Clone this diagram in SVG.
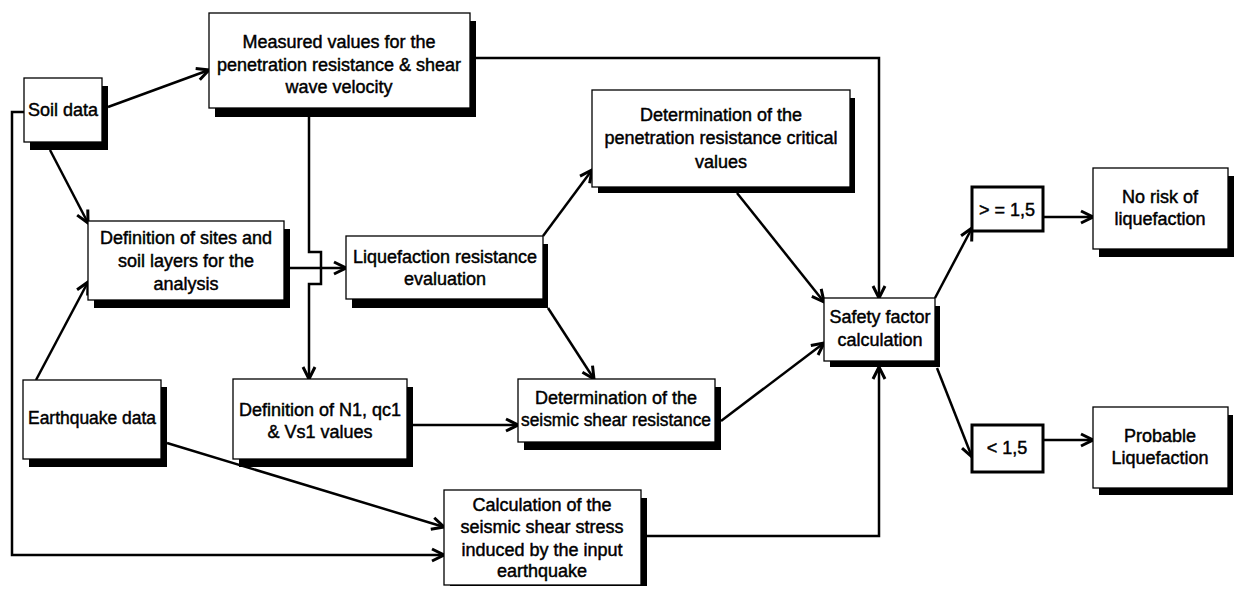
<svg xmlns="http://www.w3.org/2000/svg" width="1238" height="591" viewBox="0 0 1238 591">
<defs>
<marker id="arr" markerUnits="userSpaceOnUse" markerWidth="16" markerHeight="16" viewBox="0 0 16 16" refX="14" refY="8" orient="auto">
<path d="M2,2 L14,8 L2,14" fill="none" stroke="#000" stroke-width="3" stroke-linejoin="miter"/>
</marker>
</defs>
<style>
.box{fill:#fff;stroke:#000;stroke-width:1.3}
.sh{fill:#000}
.tb{fill:#fff;stroke:#000;stroke-width:3}
text{font-family:"Liberation Sans",Arial,sans-serif;font-size:18px;fill:#000;stroke:#000;stroke-width:0.45;text-anchor:middle}
.ca{fill:none;stroke:#000;stroke-width:2.5;marker-end:url(#arr)}
</style>
<rect width="1238" height="591" fill="#fff"/>
<g id="connectors">
<line class="ca" x1="108" y1="107" x2="209" y2="70"/>
<line class="ca" x1="50" y1="150" x2="88" y2="223"/>
<line class="ca" x1="36" y1="380" x2="88" y2="282"/>
<polyline class="ca" points="24,112 12,112 12,555 444,555"/>
<line class="ca" x1="167" y1="443" x2="444" y2="527"/>
<polyline class="ca" points="309,117 309,252 321,252 321,284 309,284 309,379"/>
<line class="ca" x1="290" y1="268" x2="346" y2="268"/>
<polyline class="ca" points="475,58 879,58 879,298"/>
<line class="ca" x1="543" y1="236" x2="592" y2="170"/>
<line class="ca" x1="548" y1="308" x2="594" y2="379"/>
<line class="ca" x1="413" y1="425" x2="518" y2="425"/>
<line class="ca" x1="737" y1="193" x2="824" y2="302"/>
<line class="ca" x1="721" y1="421" x2="824" y2="343"/>
<polyline class="ca" points="647,536 879,536 879,367"/>
<line class="ca" x1="935" y1="298" x2="972" y2="228"/>
<line class="ca" x1="937" y1="368" x2="972" y2="457"/>
<line class="ca" x1="1043" y1="217" x2="1093" y2="217"/>
<line class="ca" x1="1043" y1="440" x2="1093" y2="440"/>
</g>
<g id="soil">
<rect class="sh" x="30" y="86" width="78" height="64"/>
<rect class="box" x="24" y="78" width="78" height="64"/>
<text x="63" y="116">Soil data</text>
</g>
<g id="measured">
<rect class="sh" x="215" y="21" width="261" height="96"/>
<rect class="box" x="209" y="13" width="261" height="95"/>
<text x="339" y="48">Measured values for the</text>
<text x="339" y="71">penetration resistance &amp; shear</text>
<text x="339" y="93">wave velocity</text>
</g>
<g id="sites">
<rect class="sh" x="94" y="229" width="196" height="79"/>
<rect class="box" x="88" y="221" width="196" height="79"/>
<text x="186" y="244">Definition of sites and</text>
<text x="186" y="267">soil layers for the</text>
<text x="186" y="290">analysis</text>
</g>
<g id="liquefaction">
<rect class="sh" x="352" y="244" width="196" height="64"/>
<rect class="box" x="346" y="236" width="197" height="63"/>
<text x="445" y="263">Liquefaction resistance</text>
<text x="445" y="285">evaluation</text>
</g>
<g id="earthquake">
<rect class="sh" x="29" y="387" width="138" height="80"/>
<rect class="box" x="23" y="380" width="138" height="79"/>
<text x="92" y="424" textLength="128" lengthAdjust="spacingAndGlyphs">Earthquake data</text>
</g>
<g id="n1">
<rect class="sh" x="239" y="387" width="174" height="80"/>
<rect class="box" x="233" y="379" width="174" height="80"/>
<text x="320" y="416">Definition of N1, qc1</text>
<text x="320" y="438">&amp; Vs1 values</text>
</g>
<g id="critical">
<rect class="sh" x="598" y="98" width="257" height="95"/>
<rect class="box" x="592" y="90" width="258" height="97"/>
<text x="721" y="121">Determination of the</text>
<text x="721" y="144">penetration resistance critical</text>
<text x="721" y="168">values</text>
</g>
<g id="seismic">
<rect class="sh" x="524" y="387" width="197" height="63"/>
<rect class="box" x="518" y="379" width="197" height="63"/>
<text x="616" y="404">Determination of the</text>
<text x="616" y="426" textLength="190" lengthAdjust="spacingAndGlyphs">seismic shear resistance</text>
</g>
<g id="calc">
<rect class="sh" x="450" y="498" width="197" height="88"/>
<rect class="box" x="444" y="490" width="197" height="95"/>
<text x="542" y="511">Calculation of the</text>
<text x="542" y="533">seismic shear stress</text>
<text x="542" y="556">induced by the input</text>
<text x="542" y="577">earthquake</text>
</g>
<g id="safety">
<rect class="sh" x="830" y="306" width="110" height="61"/>
<rect class="box" x="824" y="298" width="111" height="63"/>
<text x="880" y="323">Safety factor</text>
<text x="880" y="346">calculation</text>
</g>
<g id="ge">
<rect class="tb" x="972" y="187" width="71" height="44"/>
<text x="1007" y="216">&gt; = 1,5</text>
</g>
<g id="lt">
<rect class="tb" x="972" y="425" width="71" height="47"/>
<text x="1007" y="454">&lt;  1,5</text>
</g>
<g id="norisk">
<rect class="sh" x="1099" y="176" width="135" height="81"/>
<rect class="box" x="1093" y="168" width="135" height="81"/>
<text x="1160" y="203">No risk of</text>
<text x="1160" y="225">liquefaction</text>
</g>
<g id="probable">
<rect class="sh" x="1099" y="415" width="134" height="80"/>
<rect class="box" x="1093" y="407" width="135" height="81"/>
<text x="1160" y="442">Probable</text>
<text x="1160" y="464">Liquefaction</text>
</g>
</svg>
